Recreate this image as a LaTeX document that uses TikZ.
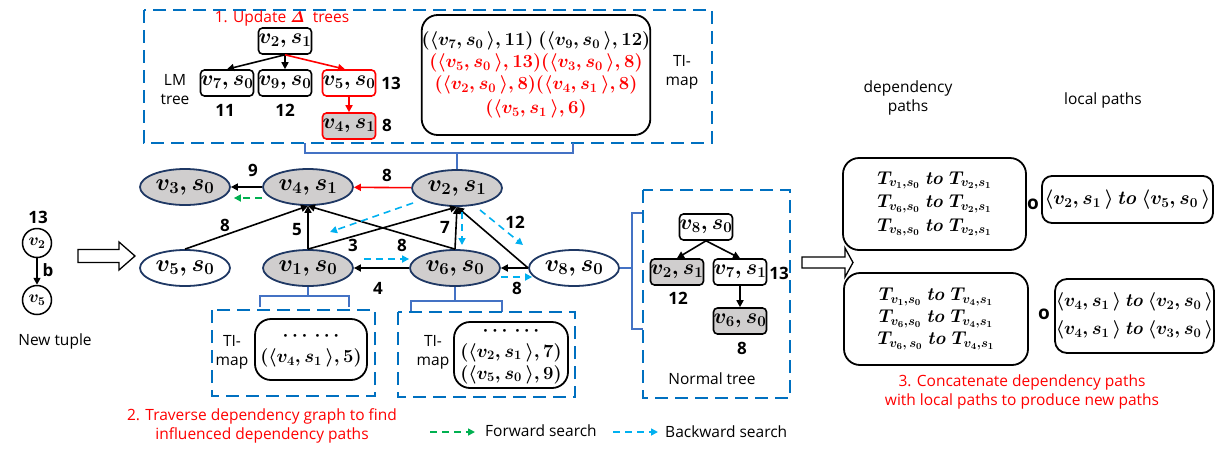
\RequirePackage{fix-cm}
\documentclass[tikz,border=0pt]{standalone}
\usepackage[no-math]{fontspec}
\setmainfont{Open Sans}
\usetikzlibrary{arrows.meta,shapes.geometric,calc}
\definecolor{pblue}{HTML}{0070C0}
\definecolor{navy}{HTML}{1F3864}
\definecolor{brk}{HTML}{4472C4}
\definecolor{gfill}{HTML}{D0CECE}
\definecolor{fgreen}{HTML}{00B050}
\definecolor{lblue}{HTML}{00B0F0}
\definecolor{pred}{HTML}{FF0000}
\newcommand\fsTxt{\fontsize{15.5}{19}\selectfont}
\newcommand\fsNum{\fontsize{17}{20}\selectfont\bfseries}
\newcommand\fsEll{\fontsize{24}{28}\selectfont\boldmath}
\newcommand\fsTree{\fontsize{21.5}{24}\selectfont\boldmath}
\newcommand\fsBox{\fontsize{18.5}{22}\selectfont\boldmath}
\begin{document}
\begin{tikzpicture}[x=1pt,y=-1pt,
  dbox/.style={draw=pblue,line width=2.6pt,dash pattern=on 13pt off 7pt},
  ell/.style={ellipse,draw=navy,line width=1.8pt,minimum width=90pt,minimum height=36pt,inner sep=0pt,font=\fsEll},
  gray/.style={fill=gfill},
  tbox/.style={rectangle,rounded corners=4pt,draw,line width=1.6pt,minimum width=53pt,minimum height=26pt,inner sep=0pt,font=\fsTree},
  rtbox/.style={tbox,draw=pred},
  rbox/.style={rectangle,rounded corners=16pt,draw,line width=1.8pt,inner sep=0pt,align=center},
  arr/.style={line width=1.6pt,-{Triangle[length=7pt,width=7pt]}},
  rarr/.style={arr,draw=pred,-{Triangle[length=7pt,width=7pt,fill=pred]}},
  garr/.style={line width=1.6pt,draw=fgreen,dash pattern=on 7pt off 5pt,-{Triangle[length=7pt,width=7pt,fill=fgreen]}},
  barr/.style={line width=1.6pt,draw=lblue,dash pattern=on 7pt off 5pt,-{Triangle[length=7pt,width=7pt,fill=lblue]}},
  brkl/.style={draw=brk,line width=1.5pt},
  lbl/.style={font=\fsNum,inner sep=0pt},
  txt/.style={font=\fsTxt,inner sep=0pt,align=center},
  rtxt/.style={txt,text=pred},
  hollow/.style={draw,line width=1.3pt,fill=white}
]
\useasboundingbox (0,0) rectangle (1225,448);

% ---------- top box: update trees ----------
\draw[dbox] (144,10) rectangle (712,143);
\node[rtxt] (t1) at (282,18) {1. Update {\boldmath$\mathit{\Delta}$}\ \ trees};
\node[tbox] (a21) at (285,41) {$v_2,s_1$};
\node[tbox] (a70) at (227,83) {$v_7,s_0$};
\node[tbox] (a90) at (285,83) {$v_9,s_0$};
\node[rtbox] (a50) at (349,83) {$v_5,s_0$};
\node[rtbox,gray] (a41) at (349,126) {$v_4,s_1$};
\draw[arr] (a21.south) -- (a70.north);
\draw[arr] (a21.south) -- (a90.north);
\draw[rarr] (a21.south) -- ($(a50.north)+(-4,0)$);
\draw[rarr] (a50) -- (a41);
\node[txt] (lm) at (175,90) {LM\\tree};
\node[lbl] (l11) at (225,110) {11};
\node[lbl] (l12) at (285,110) {12};
\node[lbl] (l13) at (391,83) {13};
\node[lbl] (l8a) at (387,125) {8};
\node[rbox,minimum width=228pt,minimum height=120pt,font=\fsBox] (tm) at (536,75)
  {$(\langle v_7,s_0\,\rangle,11)\ (\langle v_9,s_0\,\rangle,12)$\\
   \textcolor{pred}{$(\langle v_5,s_0\,\rangle,13)(\langle v_3,s_0\,\rangle,8)$}\\
   \textcolor{pred}{$(\langle v_2,s_0\,\rangle,8)(\langle v_4,s_1\,\rangle,8)$}\\[2pt]
   \textcolor{pred}{$(\langle v_5,s_1\,\rangle,6)$}};
\node[txt] (tmlab) at (682,72) {TI-\\map};

% ---------- graph ----------
\node[ell,gray] (v3) at (185,187) {$v_3,s_0$};
\node[ell,gray] (v4) at (308,187) {$v_4,s_1$};
\node[ell,gray] (v2) at (457,188) {$v_2,s_1$};
\node[ell] (v5) at (185,268) {$v_5,s_0$};
\node[ell,gray] (v1) at (308,268) {$v_1,s_0$};
\node[ell,gray] (v6) at (455,268) {$v_6,s_0$};
\node[ell] (v8) at (574,268) {$v_8,s_0$};

\draw[arr] (v4) -- (v3);
\draw[garr] ($(v4.west)+(0,11)$) -- ($(v3.east)+(3,11)$);
\draw[rarr] (v2) -- (v4);
\draw[arr] (v5.north) -- (v4.south);
\draw[arr] (v1.north) -- (v4.south);
\draw[arr] (v1.north) -- (v2.south);
\draw[arr] (v6.north) -- (v4.south);
\draw[arr] (v6.north) -- (v2.south);
\draw[arr] (v8.west) -- (v2.south);
\draw[arr] (v8) -- (v6);
\draw[arr] (v6) -- (v1);
\draw[barr] ($(v1.east)+(10,-9)$) -- ($(v6.west)+(0,-9)$);
\draw[barr] ($(v6.east)+(0,9)$) -- ($(v8.west)+(4,9)$);
\draw[barr] ($(v2.center)+(23,22)$) -- ($(v8.center)+(-51,-23)$);
\draw[barr] ($(v2.center)+(5,24)$) -- ($(v6.center)+(7,-23)$);
\draw[barr] ($(v2.center)+(-44,15)$) -- ($(v1.center)+(22,-36)$);

\node[lbl] (e9) at (253,170) {9};
\node[lbl] (e8a) at (387,175) {8};
\node[lbl] (e8b) at (225,225) {8};
\node[lbl] (e5) at (297,230) {5};
\node[lbl] (e3) at (353,245) {3};
\node[lbl] (e8c) at (402,245) {8};
\node[lbl] (e7) at (445,227) {7};
\node[lbl] (e12) at (515,222) {12};
\node[lbl] (e4) at (378,288) {4};
\node[lbl] (e8d) at (517,288) {8};

% brackets
\draw[brkl] (305,143) -- (305,153) -- (573,153) -- (573,143);
\draw[brkl] (v2.north) -- (v2.north |- 0,153);
\draw[brkl] (v1.south) -- (v1.south |- 0,296);
\draw[brkl] (260,307) -- (260,296) -- (349,296) -- (349,307);
\draw[brkl] (v6.south) -- (v6.south |- 0,301);
\draw[brkl] (411,312) -- (411,301) -- (502,301) -- (502,312);
\draw[brkl] (v8.east) -- (632,268);
\draw[brkl] (643,213) -- (632,213) -- (632,329) -- (643,329);

% ---------- bottom TI-maps ----------
\draw[dbox] (212,310) rectangle (375,396);
\node[rbox,minimum width=112pt,minimum height=61pt,font=\fsBox] (tm1) at (311,349.5)
  {$\cdots\,\cdots$\\$(\langle v_4,s_1\,\rangle,5)$};
\node[txt] (tm1lab) at (232,352) {TI-\\map};
\draw[dbox] (398,312) rectangle (575,397);
\node[rbox,minimum width=114pt,minimum height=66pt,font=\fsBox] (tm2) at (511,355)
  {$\cdots\,\cdots$\\$(\langle v_2,s_1\,\rangle,7)$\\$(\langle v_5,s_0\,\rangle,9)$};
\node[txt] (tm2lab) at (433,352) {TI-\\map};
\node[rtxt] (t2) at (262,426) {2. Traverse dependency graph to find\\influenced dependency paths};

% legend
\coordinate (g1) at (430,432);
\coordinate (g2) at (475,432);
\draw[garr] (g1) -- (g2);
\node[txt,anchor=west] (gl) at (485,431) {Forward search};
\coordinate (b1) at (613,432);
\coordinate (b2) at (658,432);
\draw[barr] (b1) -- (b2);
\node[txt,anchor=west] (bl) at (665,432) {Backward search};

% ---------- normal tree ----------
\draw[dbox] (643,190) rectangle (790,398);
\node[tbox] (n8) at (706,227) {$v_8,s_0$};
\node[tbox,gray] (n2) at (677,272) {$v_2,s_1$};
\node[tbox] (n7) at (740,272) {$v_7,s_1$};
\node[tbox,gray] (n6) at (740,321) {$v_6,s_0$};
\draw[arr] (n8.south) -- (n2.north);
\draw[arr] (n8.south) -- (n7.north);
\draw[arr] (n7) -- (n6);
\node[lbl] (nl12) at (678,298) {12};
\node[lbl] (nl13) at (779,273) {13};
\node[lbl] (nl8) at (742,348) {8};
\node[txt] (ntl) at (712,379) {Normal tree};

% ---------- new tuple ----------
\node[circle,draw,line width=1.5pt,minimum size=29pt,inner sep=0pt,font=\fontsize{17}{18}\selectfont\boldmath] (c2) at (37,243) {$v_2$};
\node[circle,draw,line width=1.5pt,minimum size=29pt,inner sep=0pt,font=\fontsize{17}{18}\selectfont\boldmath] (c5) at (37,300) {$v_5$};
\draw[arr] (c2) -- (c5);
\node[lbl] (c13) at (38,217) {13};
\node[lbl] (cb) at (48,270) {b};
\node[txt] (nt) at (55,341) {New tuple};
\draw[hollow] (78,249.5) -- (119,249.5) -- (119,242) -- (135,256) -- (119,270) -- (119,262.5) -- (78,262.5) -- cycle;

% ---------- right part ----------
\draw[hollow] (802,257) -- (845,257) -- (845,248) -- (853,262.5) -- (845,277) -- (845,268) -- (802,268) -- cycle;
\node[txt] (dph) at (908,98) {dependency\\paths};
\node[txt] (lph) at (1103,100) {local paths};
\node[rbox,fill=white,minimum width=183pt,minimum height=92pt,font=\fontsize{18.5}{23.5}\selectfont\boldmath] (dp1) at (934.5,204)
  {$T_{v_1,s_0}\ \mathit{to}\ T_{v_2,s_1}$\\$T_{v_6,s_0}\ \mathit{to}\ T_{v_2,s_1}$\\$T_{v_8,s_0}\ \mathit{to}\ T_{v_2,s_1}$};
\node[rbox,fill=white,minimum width=184pt,minimum height=92pt,font=\fontsize{18.5}{22}\selectfont\boldmath] (dp2) at (936,319)
  {$T_{v_1,s_0}\ \mathit{to}\ T_{v_4,s_1}$\\$T_{v_6,s_0}\ \mathit{to}\ T_{v_4,s_1}$\\$T_{v_6,\,s_0}\ \mathit{to}\ T_{v_4,s_1}$};
\node[inner sep=0pt,font=\fontsize{19}{20}\selectfont\bfseries] (o1) at (1033,204.5) {o};
\node[inner sep=0pt,font=\fontsize{19}{20}\selectfont\bfseries] (o2) at (1044,314.5) {o};
\node[rbox,rounded corners=10pt,minimum width=171pt,minimum height=47pt,font=\fontsize{19.5}{24}\selectfont\boldmath] (lp1) at (1127.5,199.5)
  {$\langle v_2,s_1\,\rangle\,\mathit{to}\,\langle v_5,s_0\,\rangle$};
\node[rbox,rounded corners=12pt,minimum width=159pt,minimum height=74pt,font=\fontsize{18.5}{28}\selectfont\boldmath] (lp2) at (1134.5,316)
  {$\langle v_4,s_1\,\rangle\,\mathit{to}\,\langle v_2,s_0\,\rangle$\\$\langle v_4,s_1\,\rangle\,\mathit{to}\,\langle v_3,s_0\,\rangle$};
\node[rtxt] (t3) at (1022,392) {3. Concatenate dependency paths\\with local paths to produce new paths};
\end{tikzpicture}
\end{document}
